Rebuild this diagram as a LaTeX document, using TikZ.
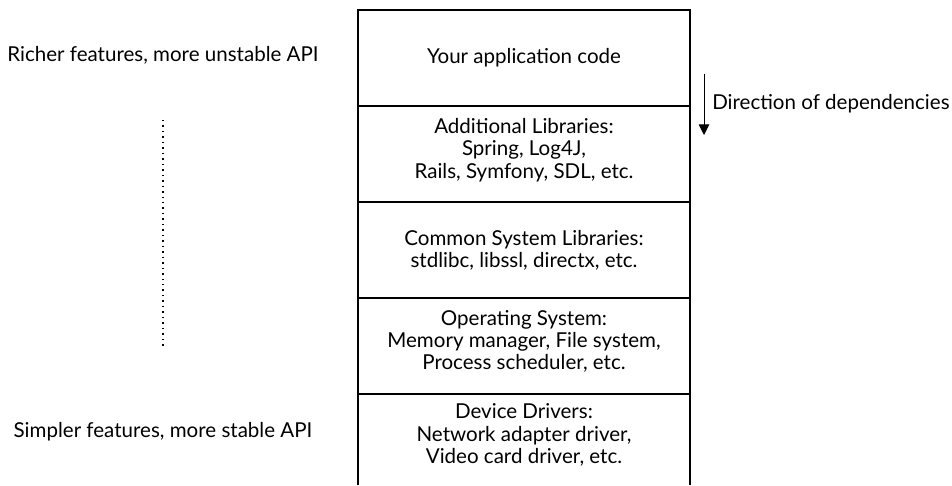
\documentclass[tikz,border=0pt]{standalone}
\usepackage{fontspec}
\setmainfont{Lato}
\usepackage{tikz}
\usetikzlibrary{positioning}
\usetikzlibrary{arrows.meta}
\newcommand{\stackfont}{\fontsize{15.4pt}{16.7pt}\selectfont}

\begin{document}
\begin{tikzpicture}[x=0.75pt,y=-0.75pt,
    layer/.style={draw, line width=0.9pt, minimum width=249pt, minimum height=72pt, inner sep=0pt, outer sep=0pt, align=center, font=\stackfont},
    remark/.style={font=\stackfont, inner sep=0pt},
    dotline/.style={line width=1.1pt, dash pattern=on 1.1pt off 3pt}]
        % Frame
        \useasboundingbox (0,0) rectangle (952,485);

        % Stack
        \node[layer] (app) at (524,58) {Your application code};
        \node[layer, below=0pt of app] (addlibs) {Additional Libraries:\\ Spring, Log4J,\\ Rails, Symfony, SDL, etc.\\[-8pt]\mbox{}};
        \node[layer, below=0pt of addlibs] (syslibs) {Common System Libraries:\\ stdlibc, libssl, directx, etc.};
        \node[layer, below=0pt of syslibs] (os) {Operating System:\\ Memory manager, File system,\\ Process scheduler, etc.\\[-8pt]\mbox{}};
        \node[layer, draw=none, below=0pt of os, minimum height=68.25pt] (drivers) {Device Drivers:\\ Network adapter driver,\\ Video card driver, etc.\\[-8pt]\mbox{}};
        \draw[line width=0.9pt] (drivers.south west) -- (drivers.north west) -- (drivers.north east) -- (drivers.south east);

        % Side notes
        \node[remark, anchor=base] (richer) at (163,61) {Richer features, more unstable API};
        \node[remark, anchor=base] (simpler) at (163,437) {Simpler features, more stable API};
        \coordinate (dtop) at (163,120);
        \coordinate (dbot) at (163,348);
        \draw[dotline] (dtop) -- (dbot);

        % Dependencies
        \coordinate (dirtop) at (704,74);
        \coordinate (dirbot) at (704,135);
        \draw[line width=0.7pt, -{Triangle[width=8pt,length=8pt]}] (dirtop) -- (dirbot);
        \node[remark, anchor=base west] (dir) at (712,109) {Direction of dependencies};
    \end{tikzpicture}
\end{document}
